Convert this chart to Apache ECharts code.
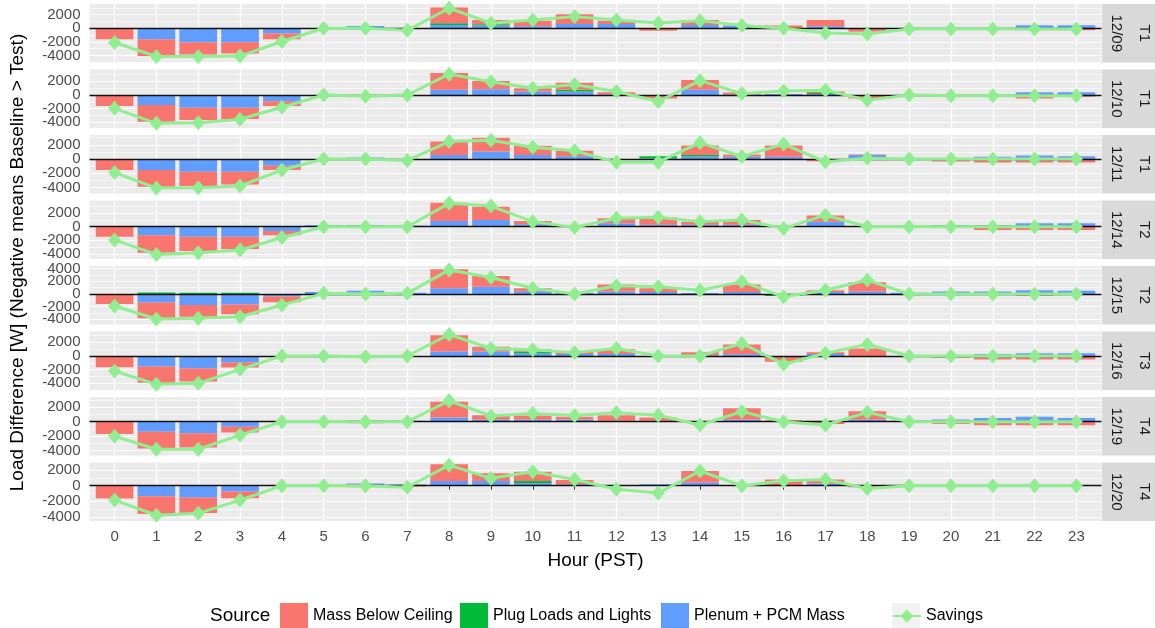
<!DOCTYPE html>
<html><head><meta charset="utf-8">
<script src="https://cdn.jsdelivr.net/npm/echarts@6/dist/echarts.min.js"></script>
<style>html,body{margin:0;padding:0;background:#fff}#c{width:1155px;height:628px}</style>
</head><body><div id="c"></div>
<script>
// ---------------- DATA ----------------
const hours = [0,1,2,3,4,5,6,7,8,9,10,11,12,13,14,15,16,17,18,19,20,21,22,23];
const hourLabels = hours.map(String);
const dates = ["12/09","12/10","12/11","12/14","12/15","12/16","12/19","12/20"];
const tests = ["T1","T1","T1","T2","T2","T3","T4","T4"];
const seriesNames = ["Mass Below Ceiling","Plug Loads and Lights","Plenum + PCM Mass","Savings"];

// Plenum + PCM Mass [W], one row per panel
const plenum = [
  [0,-1600,-2050,-2050,-750,0,350,0,500,400,300,650,650,0,500,400,0,300,0,0,0,0,450,450],
  [0,-1450,-1850,-1850,-900,0,0,0,750,850,500,500,100,0,750,100,150,150,0,0,0,0,400,400],
  [0,-1550,-1800,-1800,-950,0,200,0,550,1050,550,400,0,100,350,300,300,0,550,0,0,300,500,400],
  [0,-1250,-1500,-1500,-650,200,250,150,850,1000,350,100,500,300,300,300,100,750,0,0,250,250,500,500],
  [0,-1350,-1750,-1650,-400,300,500,200,900,1150,450,200,400,300,150,300,-100,300,400,200,400,400,600,500],
  [0,-1550,-1800,-950,0,0,0,0,650,650,400,300,300,0,100,250,0,300,0,0,0,300,400,400],
  [0,-1400,-1600,-700,0,0,200,150,600,300,300,300,150,150,0,300,0,0,300,150,300,500,700,500],
  [0,-1350,-1500,-750,0,0,300,150,600,600,350,200,100,200,400,0,100,300,0,0,0,0,0,0]
];
// Plug Loads and Lights [W]
const plug = [
  [0,0,0,0,0,0,0,0,250,200,0,0,0,0,0,0,0,0,0,0,0,0,0,0],
  [0,0,0,0,0,0,0,0,0,0,0,250,0,0,0,0,0,150,0,0,0,0,0,0],
  [0,0,0,0,0,0,0,0,0,0,0,0,0,300,200,0,0,0,0,0,0,0,0,0],
  [0,0,0,0,0,0,0,0,0,0,0,0,0,0,0,0,0,0,0,0,0,0,0,0],
  [0,250,200,200,0,0,0,0,0,0,0,0,0,0,0,0,-200,0,0,0,0,0,0,0],
  [0,0,0,0,0,0,0,0,0,0,250,0,0,0,0,0,0,0,0,0,0,0,0,0],
  [0,0,0,0,0,0,0,0,0,0,0,0,0,0,0,0,0,0,0,0,0,0,0,0],
  [0,0,0,0,0,0,0,0,0,0,250,0,0,0,0,0,0,0,0,0,0,0,0,0]
];
// Mass Below Ceiling [W]
const mass = [
  [-1600,-2500,-1800,-1650,-850,0,0,0,2300,630,830,1420,480,-350,730,0,400,930,-500,0,0,-250,-300,-300],
  [-1600,-2450,-1800,-1650,-700,0,-250,0,2450,1200,500,1050,300,-500,1450,250,0,200,-500,0,-250,-250,-500,-250],
  [-1550,-2350,-2000,-1800,-600,0,0,0,1900,1950,1300,750,0,0,1350,350,1600,-300,100,0,-350,-500,-500,-500],
  [-1500,-2600,-2100,-1800,-600,0,0,0,2700,1950,500,0,750,1050,450,700,0,900,0,0,0,-500,-500,-500],
  [-1600,-2500,-1850,-1550,-900,0,0,0,3000,1700,450,0,1100,600,0,1200,0,300,1450,0,0,0,-300,0],
  [-1650,-2350,-1950,-750,0,0,-300,0,2400,700,350,300,700,0,450,1450,-850,250,1100,0,-300,-500,-500,-500],
  [-1700,-2300,-1950,-800,0,0,-200,0,2150,600,550,400,750,450,0,1550,200,-300,1150,0,-300,-500,-500,-500],
  [-1650,-2300,-2000,-850,0,0,-200,-100,2150,1000,1200,550,0,0,1500,0,700,500,-200,0,0,0,0,0]
];
// Savings [W]
const savings = [
  [-2100,-4150,-4150,-4100,-1950,0,0,-300,2950,750,1230,1720,1230,780,1130,400,0,-700,-850,-100,-100,-100,-100,-100],
  [-1950,-4150,-4050,-3550,-1800,0,-200,0,3050,1950,1000,1550,500,-950,2100,200,600,700,-750,0,-100,-100,-100,-100],
  [-1900,-4100,-4050,-3800,-1550,0,0,-200,2450,2650,1650,1150,-450,-450,2300,350,2100,-400,100,0,0,0,0,0],
  [-1950,-4100,-3850,-3450,-1600,0,0,0,3450,3050,750,-100,1250,1400,750,1000,-250,1700,0,0,0,0,0,0],
  [-1900,-3950,-3850,-3600,-1750,100,0,100,3800,2600,900,0,1300,1150,600,1950,-450,600,2200,0,0,0,0,0],
  [-2200,-4150,-4000,-1950,0,0,-100,0,3150,1100,900,500,1100,0,0,1850,-1200,400,1700,0,0,0,0,0],
  [-2000,-3800,-3800,-1850,0,0,0,0,2900,800,1150,850,1250,900,-450,1400,0,-450,1300,0,0,0,0,0],
  [-1850,-3800,-3550,-1850,0,0,0,-200,2650,950,1800,800,-450,-950,1900,0,650,800,-350,0,0,0,0,0]
];
// per-panel y-axis limits (free scales)
const yMin = [-5040,-4830,-4860,-4770,-4820,-4980,-4670,-4540];
const yMax = [3580,3730,3380,3870,4420,3590,3420,2990];
const majorTicks = [-4000,-2000,0,2000,4000];
const minorTicks = [-5000,-3000,-1000,1000,3000];

// ---------------- LAYOUT ----------------
const PL = 89.5, PW = 1012, PH = 58.5;
const TOPS = [4, 69.5, 135, 200.5, 266, 331.5, 397, 462.5];
const XMIN = -0.6, XMAX = 23.6;            // ggplot discrete expansion
const UNIT = PW / (XMAX - XMIN);
const INNER_L = PL + (-0.5 - XMIN) * UNIT, INNER_W = 24 * UNIT;
const FONT = 'Liberation Sans';
const COLORS = {mass:'#F8766D', plug:'#00BA38', plenum:'#619CFF', sav:'#90EE90'};

const grid = [], xAxis = [], yAxis = [], series = [], graphic = [];
const N = dates.length;
const fmt = v => String(Math.round(v));
dates.forEach((d, i) => {
  const inR = v => v >= yMin[i] && v <= yMax[i];
  const maj = majorTicks.filter(inR), mnr = minorTicks.filter(inR);
  // labels split over two axes so that neighbouring labels never collide
  const labA = maj.filter(v => (v / 2000) % 2 === 0);
  const labB = maj.filter(v => (v / 2000) % 2 !== 0);
  const last = i === N - 1;
  grid.push({left: PL, top: TOPS[i], width: PW, height: PH, show: true,
    backgroundColor: '#EBEBEB', borderWidth: 0});
  grid.push({left: INNER_L, top: TOPS[i], width: INNER_W, height: PH, show: false});
  const gO = 2 * i, gI = 2 * i + 1;
  xAxis.push({gridIndex: gO, type: 'value', min: XMIN, max: XMAX, position: 'bottom',
    axisLine: {show: false},
    axisTick: {show: last, length: 4, customValues: hours, lineStyle: {color: '#333333', width: 1}},
    axisLabel: {show: last, customValues: hours, fontSize: 15, color: '#4D4D4D', fontFamily: FONT, margin: 8,
      showMinLabel: true, showMaxLabel: true, formatter: fmt},
    splitLine: {show: true, lineStyle: {color: '#fff', width: 1.2}}});
  xAxis.push({gridIndex: gI, type: 'category', data: hourLabels, boundaryGap: true,
    axisLine: {show: false}, axisTick: {show: false}, axisLabel: {show: false}, splitLine: {show: false}});
  const yBase = yAxis.length;
  const yCommon = {type: 'value', min: yMin[i], max: yMax[i], axisLine: {show: false}};
  const labStyle = {show: true, fontSize: 15, color: '#4D4D4D', fontFamily: FONT, margin: 9,
    hideOverlap: false, showMinLabel: true, showMaxLabel: true, formatter: fmt};
  const majLine = {show: true, lineStyle: {color: '#fff', width: 1.2}};
  // A: 0, ±4000
  yAxis.push(Object.assign({gridIndex: gO, position: 'left', offset: 0,
    axisTick: {show: false, customValues: labA},
    axisLabel: Object.assign({customValues: labA}, labStyle),
    splitLine: majLine}, yCommon));
  // B: ±2000
  yAxis.push(Object.assign({gridIndex: gO, position: 'left', offset: 0,
    axisTick: {show: false, customValues: labB},
    axisLabel: Object.assign({customValues: labB}, labStyle),
    splitLine: majLine}, yCommon));
  // C: minor grid lines
  yAxis.push(Object.assign({gridIndex: gO, position: 'right',
    axisTick: {show: false, customValues: mnr}, axisLabel: {show: false},
    splitLine: {show: true, lineStyle: {color: '#fff', width: 0.6}}}, yCommon));
  // D: hidden axis for the bars
  yAxis.push(Object.assign({gridIndex: gI, axisTick: {show: false}, axisLabel: {show: false}, splitLine: {show: false}}, yCommon));

  const barBase = {type: 'bar', xAxisIndex: 2 * i + 1, yAxisIndex: yBase + 3, stack: 's' + i,
    barWidth: '90%', z: 2, animation: false};
  series.push(Object.assign({}, barBase, {name: seriesNames[2], data: plenum[i], itemStyle: {color: COLORS.plenum}}));
  series.push(Object.assign({}, barBase, {name: seriesNames[1], data: plug[i], itemStyle: {color: COLORS.plug}}));
  series.push(Object.assign({}, barBase, {name: seriesNames[0], data: mass[i], itemStyle: {color: COLORS.mass}}));
  series.push({type: 'line', name: seriesNames[3], xAxisIndex: 2 * i, yAxisIndex: yBase,
    data: hours.map((h, j) => [h, savings[i][j]]), symbol: 'diamond', symbolSize: [13, 15], showAllSymbol: true,
    lineStyle: {color: COLORS.sav, width: 3}, itemStyle: {color: COLORS.sav}, z: 10, animation: false,
    markLine: {silent: true, symbol: ['none','none'], label: {show: false}, animation: false,
      lineStyle: {color: '#111', width: 1.3, type: 'solid'}, data: [{yAxis: 0}]}});

  graphic.push({type: 'rect', shape: {x: PL + PW + 0.5, y: TOPS[i], width: 28, height: PH}, style: {fill: '#D9D9D9'}, z: 0});
  graphic.push({type: 'rect', shape: {x: PL + PW + 28.5, y: TOPS[i], width: 30, height: PH}, style: {fill: '#D9D9D9'}, z: 0});
  graphic.push({type: 'text', x: PL + PW + 14.5, y: TOPS[i] + PH / 2, rotation: -Math.PI / 2,
    style: {text: d, fontSize: 15, fontFamily: FONT, fill: '#1A1A1A', align: 'center', verticalAlign: 'middle', textAlign: 'center', textVerticalAlign: 'middle'}, z: 1});
  graphic.push({type: 'text', x: PL + PW + 42.5, y: TOPS[i] + PH / 2, rotation: -Math.PI / 2,
    style: {text: tests[i], fontSize: 15, fontFamily: FONT, fill: '#1A1A1A', align: 'center', verticalAlign: 'middle', textAlign: 'center', textVerticalAlign: 'middle'}, z: 1});
});

graphic.push({type: 'text', x: 18, y: (TOPS[0] + TOPS[N - 1] + PH) / 2, rotation: Math.PI / 2,
  style: {text: 'Load Difference [W] (Negative means Baseline > Test)', fontSize: 19, fontFamily: FONT, fill: '#000',
    align: 'center', verticalAlign: 'middle', textAlign: 'center', textVerticalAlign: 'middle'}});
graphic.push({type: 'text', x: PL + PW / 2, y: 561,
  style: {text: 'Hour (PST)', fontSize: 19, fontFamily: FONT, fill: '#000',
    align: 'center', verticalAlign: 'middle', textAlign: 'center', textVerticalAlign: 'middle'}});
graphic.push({type: 'text', x: 210, y: 616,
  style: {text: 'Source', fontSize: 19, fontFamily: FONT, fill: '#000',
    align: 'left', verticalAlign: 'middle', textAlign: 'left', textVerticalAlign: 'middle'}});
graphic.push({type: 'rect', shape: {x: 892, y: 603, width: 28, height: 26}, style: {fill: '#F2F2F2'}, z: 0});

const legendLeft = [280, 460, 661, 892];
const legend = seriesNames.map((n, k) => ({
  data: [n], left: legendLeft[k], top: k < 3 ? 603 : 608, orient: 'horizontal',
  itemWidth: 28, itemHeight: k < 3 ? 26 : 16, itemGap: 0, selectedMode: false, padding: 0,
  icon: k < 3 ? 'rect' : undefined,
  textStyle: {fontSize: 16, fontFamily: FONT, color: '#000'}
}));

const chart = echarts.init(document.getElementById('c'), null, {renderer: 'canvas'});
chart.setOption({
  animation: false,
  backgroundColor: '#fff',
  grid, xAxis, yAxis, series, legend, graphic
});
</script>
</body></html>
